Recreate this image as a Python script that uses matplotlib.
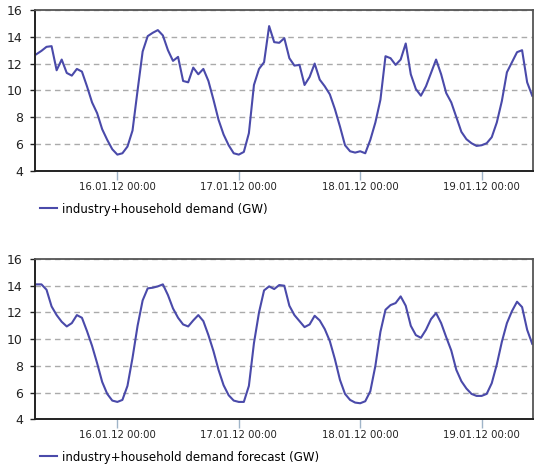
import datetime as dt
import matplotlib
matplotlib.use("Agg")
import matplotlib.pyplot as plt
import matplotlib.dates as mdates

# hourly values, 15.01.12 08:00 .. 19.01.12 10:00
demand = [
    12.7, 12.95, 13.25, 13.3, 11.5, 12.3, 11.3, 11.1, 11.6, 11.4, 10.3, 9.1, 8.3, 7.1, 6.3, 5.6,
    5.2, 5.3, 5.8, 7.0, 10.0, 12.9, 14.05, 14.3, 14.5, 14.1, 13.0, 12.2, 12.5, 10.7, 10.6, 11.7,
    11.2, 11.6, 10.7, 9.3, 7.8, 6.7, 5.9, 5.3,
    5.2, 5.4, 6.8, 10.4, 11.6, 12.1, 14.8, 13.6, 13.55, 13.9, 12.4, 11.85, 11.9, 10.4, 11.0, 12.0,
    10.8, 10.3, 9.7, 8.6, 7.3, 5.9, 5.45, 5.35,
    5.45, 5.3, 6.3, 7.6, 9.3, 12.55, 12.4, 11.9, 12.3, 13.5, 11.2, 10.1, 9.6, 10.3, 11.3, 12.3,
    11.2, 9.8, 9.1, 8.0, 6.9, 6.35, 6.05, 5.85,
    5.9, 6.05, 6.5, 7.6, 9.2, 11.35, 12.1, 12.85, 13.0, 10.6, 9.6,
]
forecast = [
    14.1, 14.1, 13.7, 12.45, 11.8, 11.3, 10.95, 11.2, 11.8, 11.6, 10.6, 9.5, 8.2, 6.8, 5.9, 5.4,
    5.3, 5.45, 6.5, 8.6, 11.0, 12.9, 13.8, 13.85, 13.95, 14.1, 13.3, 12.3, 11.6, 11.1, 10.95, 11.4,
    11.8, 11.35, 10.3, 9.1, 7.7, 6.55, 5.8, 5.4,
    5.3, 5.3, 6.5, 9.7, 12.0, 13.65, 13.95, 13.75, 14.05, 14.0, 12.5, 11.8, 11.35, 10.9, 11.1, 11.75,
    11.4, 10.75, 9.85, 8.5, 6.95, 5.9, 5.45, 5.25,
    5.2, 5.35, 6.1, 8.0, 10.55, 12.2, 12.55, 12.7, 13.2, 12.5, 11.0, 10.3, 10.1, 10.7, 11.5, 11.95,
    11.2, 10.15, 9.15, 7.7, 6.85, 6.3, 5.9, 5.75,
    5.75, 5.9, 6.7, 8.1, 9.8, 11.2, 12.1, 12.8, 12.4, 10.7, 9.65,
]
labels = ["industry+household demand (GW)",
          "industry+household demand forecast (GW)"]
tick_days = [16, 17, 18, 19]

start = dt.datetime(2012, 1, 15, 8)
times = [start + dt.timedelta(hours=i) for i in range(len(demand))]

LINE = "#4a4aaa"


def draw_panel(fig, rect, values, label, legend_y):
    ax = fig.add_axes(rect)
    ax.plot(times, values, color=LINE, lw=1.5)
    ax.set_xlim(dt.datetime(2012, 1, 15, 7, 40), dt.datetime(2012, 1, 19, 10, 6))
    ax.set_ylim(4, 16)
    ax.set_yticks(range(4, 17, 2))
    ax.set_xticks([dt.datetime(2012, 1, d) for d in tick_days])
    ax.xaxis.set_major_formatter(mdates.DateFormatter("%d.%m.%y %H:%M"))
    ax.yaxis.grid(True, color="#aaaaaa", lw=1, linestyle=(0, (4, 3)))
    ax.set_axisbelow(True)
    for side in ["top", "right"]:
        ax.spines[side].set_color("#555555")
        ax.spines[side].set_linewidth(1.3)
    for side in ["left", "bottom"]:
        ax.spines[side].set_color("#222222")
        ax.spines[side].set_linewidth(1.4)
    ax.tick_params(axis="x", direction="out", length=6.5, width=1, color="#9fb4c8",
                   labelsize=7.3, pad=1.5, labelcolor="#222222")
    ax.tick_params(axis="y", direction="out", length=3.5, width=1, color="#222222",
                   labelsize=9, pad=5, labelcolor="#222222")
    ax.legend([label], loc="center left", bbox_to_anchor=(40 / 534, legend_y),
              bbox_transform=fig.transFigure, borderaxespad=0, borderpad=0,
              handlelength=1.45, handletextpad=0.45, frameon=False, fontsize=8.5)
    return ax


fig = plt.figure(figsize=(5.34, 4.68), dpi=100)
draw_panel(fig, [0.065, 0.6353, 0.9326, 0.3433], demand, labels[0], 1 - 209 / 468)
draw_panel(fig, [0.065, 0.1041, 0.9326, 0.3425], forecast, labels[1], 1 - 457 / 468)
fig.savefig("out.png", dpi=100)
